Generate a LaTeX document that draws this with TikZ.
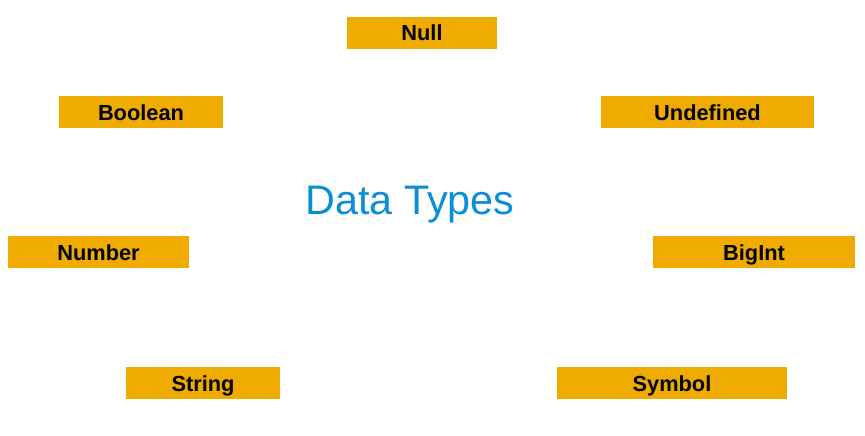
\documentclass[tikz,border=0pt]{standalone}
\usepackage{fontspec}
\setmainfont{Liberation Sans}
\definecolor{boxor}{HTML}{F0AB00}
\definecolor{titleblue}{HTML}{0A8FD6}
\begin{document}
\begin{tikzpicture}[x=1pt,y=-1pt,
  typebox/.style={fill=none,draw=none,inner sep=0pt,font=\fontsize{21.8}{24}\selectfont\bfseries,text=black},
  title/.style={inner sep=0pt,font=\fontsize{41.3}{46}\selectfont,text=titleblue}]
\useasboundingbox[fill=white] (0,0) rectangle (865,436);
\newcommand{\tbox}[6]{%
  \fill[boxor] (#2,#3) rectangle (#4,#5);
  \node[typebox,anchor=base] (#1) at ({(#2+#4)/2},{#3+24}) {#6};}
\tbox{null}{347}{17}{497}{49}{Null}
\tbox{boolean}{59}{96}{223}{128}{Boolean}
\tbox{undef}{601}{96}{814}{128}{Undefined}
\tbox{number}{8}{236}{189}{268}{Number}
\tbox{bigint}{653}{236}{855}{268}{BigInt}
\tbox{string}{126}{367}{280}{399}{String}
\tbox{symbol}{557}{367}{787}{399}{Symbol}
\node[title] (dt) at (410,205) {Data Types};
\end{tikzpicture}
\end{document}
